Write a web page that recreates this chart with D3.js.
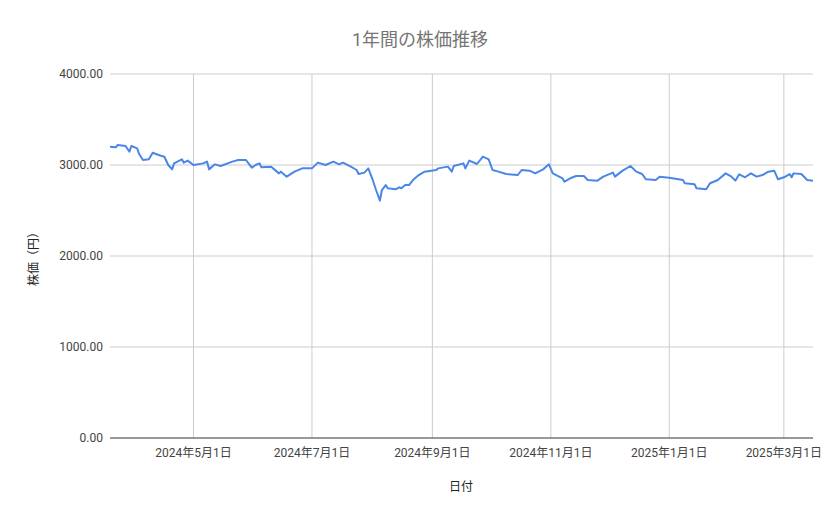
<!DOCTYPE html>
<html><head><meta charset="utf-8">
<script src="https://cdn.jsdelivr.net/npm/d3@7"></script>
<style>body{margin:0;background:#fff}text{font-family:Roboto,"Noto Sans CJK JP",sans-serif}</style>
</head><body><svg width="839" height="519"></svg>
<script>
'use strict';

// days since 2024-03-19 and closing price
let startDate = new Date(2024, 2, 19);
let days = [0,3,4,8,10,11,14,15,17,20,22,25,28,30,32,33,37,38,40,43,48,50,51,54,57,63,66,70,73,75,77,78,83,87,88,91,95,99,104,107,111,115,118,120,124,127,128,131,133,135,137,139,140,142,143,147,149,150,152,154,156,159,162,168,169,174,176,177,182,
  183,185,189,192,195,197,200,204,210,212,216,219,223,226,228,233,234,237,240,244,246,251,254,259,260,264,268,271,274,276,281,283,288,295,296,301,302,307,309,313,317,320,322,324,327,330,333,336,339,342,344,347,350,351,352,356,359,362];
let prices = [3201,3194,3220,3209,3146,3209,3183,3121,3055,3062,3135,3110,3091,3000,2952,3018,3062,3026,3048,3000,3018,3037,2952,3007,2989,3037,3055,3055,2971,3000,3018,2974,2982,2908,2927,2872,2927,2963,2963,3026,3000,3037,3007,3026,2982,2945,2901,2916,2963,2854,2725,2608,2725,2780,2744,2733,2755,2744,2780,2780,2835,2890,2927,2945,2963,2982,2927,2989,3018,
  2963,3048,3011,3092,3062,2945,2927,2901,2890,2945,2938,2908,2952,3007,2908,2854,2817,2854,2879,2879,2835,2828,2872,2916,2872,2938,2989,2927,2901,2843,2835,2872,2861,2835,2799,2788,2744,2733,2799,2835,2908,2872,2828,2898,2865,2908,2872,2890,2927,2938,2843,2865,2901,2865,2908,2901,2835,2828];
let yTicks = [0, 1000, 2000, 3000, 4000];
let xTicks = ['2024-05-01','2024-07-01','2024-09-01','2024-11-01','2025-01-01','2025-03-01'];

let data = days.map((d, i) => ({date: d3.timeDay.offset(startDate, d), v: prices[i]}));

let svg = d3.select('svg');
let mLeft = 110, mRight = 813, mTop = 74, mBottom = 438;

let x = d3.scaleTime().domain([startDate, d3.timeDay.offset(startDate, 362)]).range([mLeft, mRight]);
let y = d3.scaleLinear().domain([0, 4000]).range([mBottom, mTop]);

let tickDates = xTicks.map(s => { let p = s.split('-'); return new Date(+p[0], +p[1] - 1, +p[2]); });

// grid
svg.append('g').selectAll('line').data(tickDates).enter().append('line')
    .attr('x1', d => x(d)).attr('x2', d => x(d))
    .attr('y1', mTop).attr('y2', mBottom)
    .attr('stroke', '#ccc');
svg.append('g').selectAll('line').data(yTicks).enter().append('line')
    .attr('x1', mLeft).attr('x2', mRight)
    .attr('y1', d => y(d)).attr('y2', d => y(d))
    .attr('stroke', d => d === 0 ? '#333' : '#ccc').attr('stroke-width', 1);

// axis labels
svg.append('g').selectAll('text').data(yTicks).enter().append('text')
    .attr('x', 103).attr('y', d => y(d) + 4).attr('text-anchor', 'end')
    .attr('font-size', 12).attr('fill', '#444').text(d => d3.format('.2f')(d));
svg.append('g').selectAll('text').data(tickDates).enter().append('text')
    .attr('x', d => x(d)).attr('y', 457).attr('text-anchor', 'middle')
    .attr('font-size', 12).attr('fill', '#444')
    .text(d => d.getFullYear() + '年' + (d.getMonth() + 1) + '月' + d.getDate() + '日');

svg.append('path').datum(data)
    .attr('fill', 'none').attr('stroke', '#4a86e8').attr('stroke-width', 2)
    .attr('stroke-linejoin', 'round')
    .attr('d', d3.line().x(d => x(d.date)).y(d => y(d.v)));

svg.append('text').attr('x', 420).attr('y', 46).attr('text-anchor', 'middle')
    .attr('font-size', 18).attr('fill', '#757575').text('1年間の株価推移');
svg.append('text').attr('x', 461).attr('y', 491).attr('text-anchor', 'middle')
    .attr('font-size', 12).attr('fill', '#222').text('日付');
svg.append('text').attr('transform', 'translate(38,256) rotate(-90)').attr('text-anchor', 'middle')
    .attr('font-size', 12).attr('fill', '#222').text('株価（円）');
</script></body></html>
